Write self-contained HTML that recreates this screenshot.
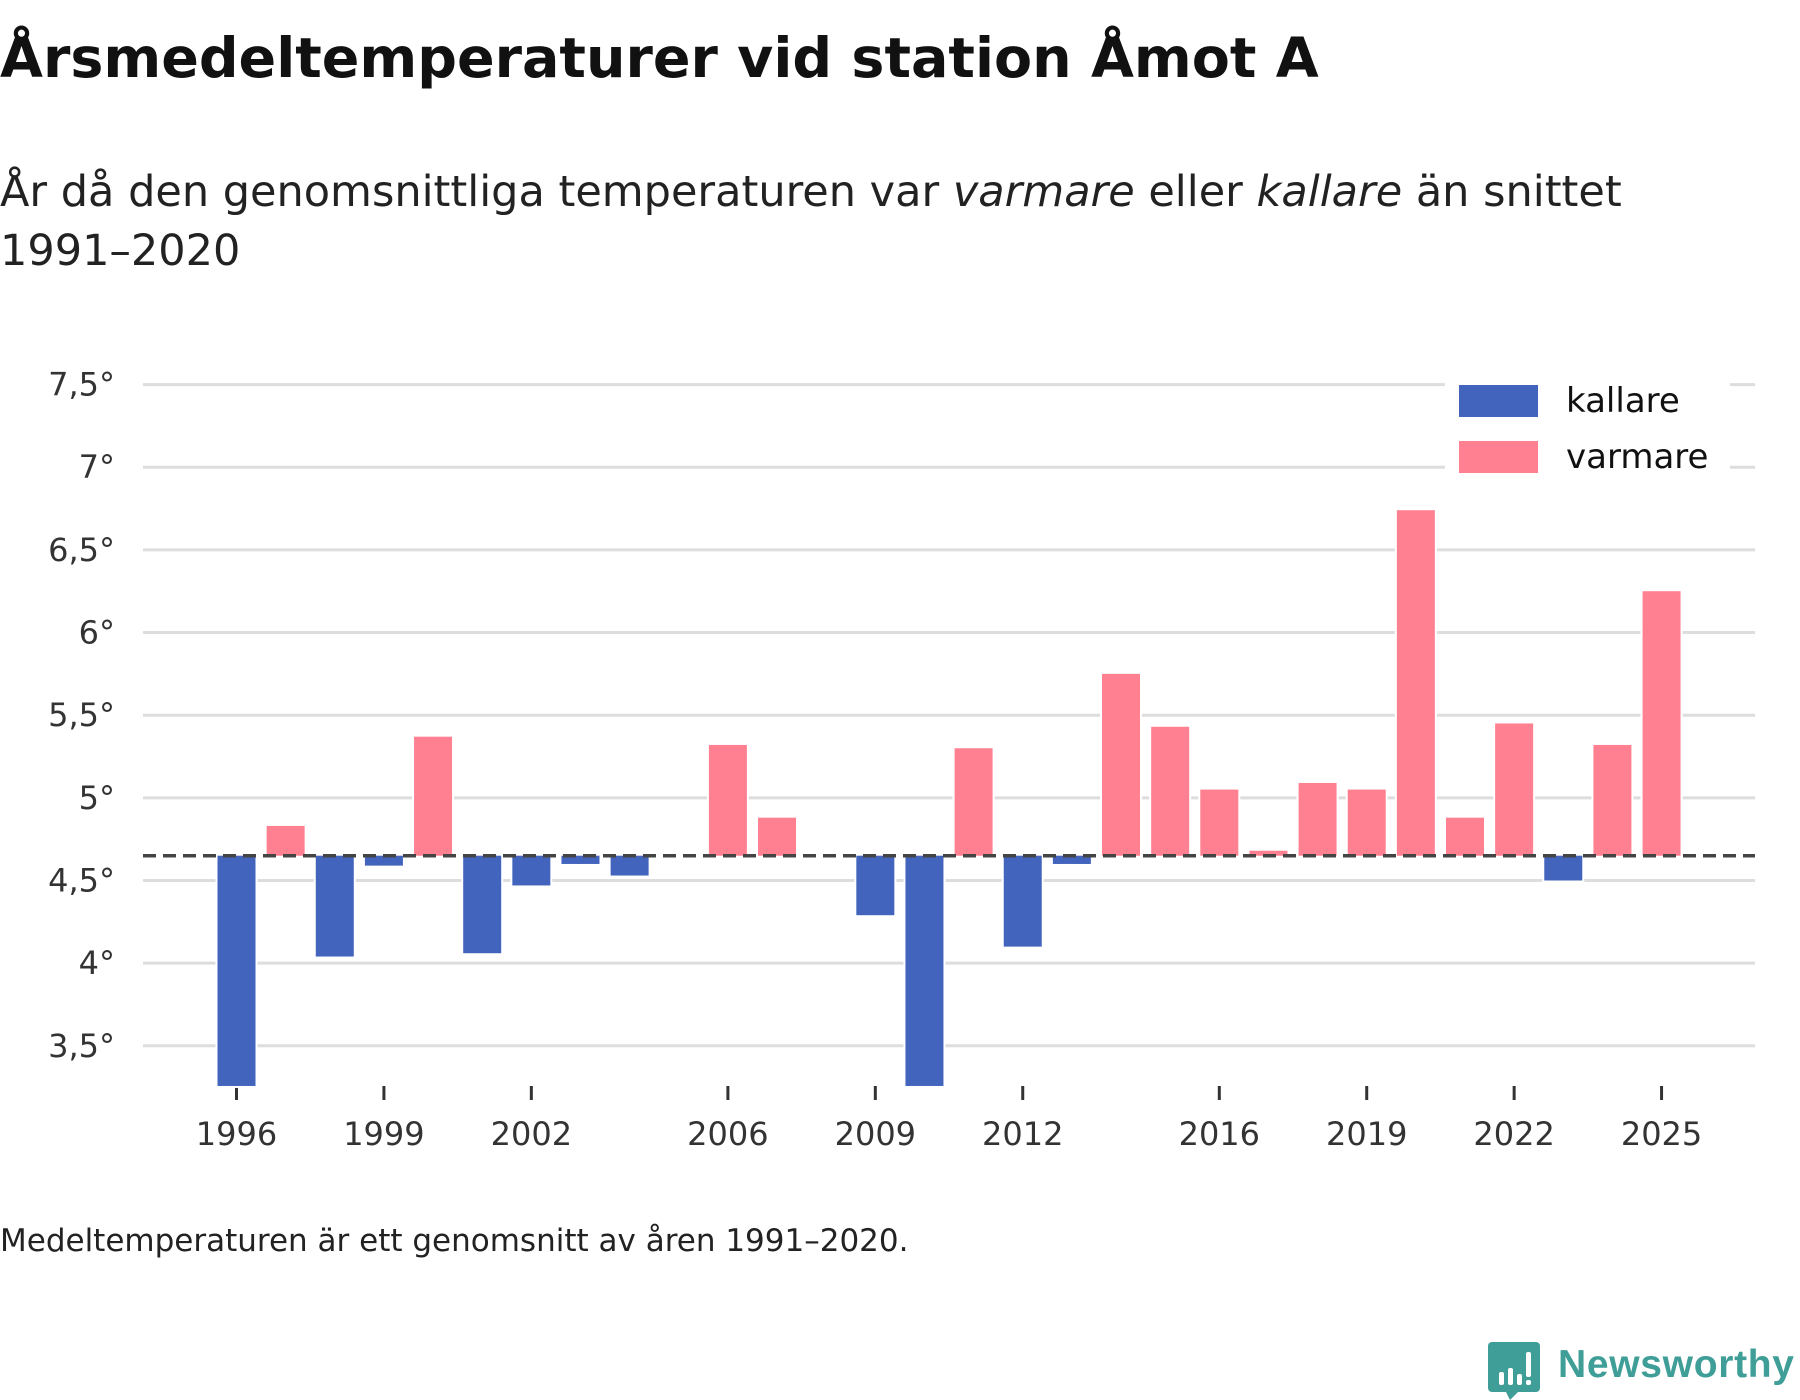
<!DOCTYPE html>
<html><head><meta charset="utf-8"><style>
html,body{margin:0;padding:0;background:#fff;}
body{width:1800px;height:1400px;position:relative;overflow:hidden;font-family:"DejaVu Sans",sans-serif;color:#111;}
.t{position:absolute;left:0;white-space:nowrap;}
</style></head><body>
<div class="t" style="top:30px;font-size:55.5px;line-height:57px;font-weight:bold;">Årsmedeltemperaturer vid station Åmot A</div>
<div class="t" style="top:163px;font-size:43px;line-height:59px;color:#222;">År då den genomsnittliga temperaturen var <i>varmare</i> eller <i>kallare</i> än snittet<br>1991–2020</div>
<svg id="chart" width="1800" height="1200" style="position:absolute;left:0;top:0;"></svg>
<div class="t" style="top:1226px;font-size:31px;line-height:30px;color:#222;">Medeltemperaturen är ett genomsnitt av åren 1991–2020.</div>
<svg width="320" height="70" style="position:absolute;left:1480px;top:1330px;">
<path d="M12 12 h44 a4 4 0 0 1 4 4 v42 a4 4 0 0 1 -4 4 h-18 l-8 8 l-4 -8 h-14 a4 4 0 0 1 -4 -4 v-42 a4 4 0 0 1 4 -4z" fill="#3f9e97"/>
<rect x="19" y="42" width="5" height="13" rx="2" fill="#fff"/><rect x="28" y="38" width="5" height="17" rx="2" fill="#fff"/><rect x="37" y="44" width="5" height="11" rx="2" fill="#fff"/><rect x="46" y="22" width="5" height="25" rx="2" fill="#fff"/><rect x="46" y="50" width="5" height="5" rx="2" fill="#fff"/>
<text x="78" y="47" font-family="Liberation Sans, sans-serif" font-size="39" font-weight="bold" fill="#3f9e97" textLength="236">Newsworthy</text>
</svg>
<script>
const years=[1996,1997,1998,1999,2000,2001,2002,2003,2004,2006,2007,2009,2010,2011,2012,2013,2014,2015,2016,2017,2018,2019,2020,2021,2022,2023,2024,2025];
const temps=[3.2,4.83,4.04,4.59,5.37,4.06,4.47,4.60,4.53,5.32,4.88,4.29,3.2,5.30,4.10,4.60,5.75,5.43,5.05,4.68,5.09,5.05,6.74,4.88,5.45,4.50,5.32,6.25];
const baseline=4.65;
const yTicks=[3.5,4,4.5,5,5.5,6,6.5,7,7.5];
const yTickLabels=["3,5°","4°","4,5°","5°","5,5°","6°","6,5°","7°","7,5°"];
const xTicks=[1996,1999,2002,2006,2009,2012,2016,2019,2022,2025];
const legendLabels=["kallare","varmare"];
const colors={cold:"#4264bd",warm:"#ff8090"};
const NS="http://www.w3.org/2000/svg";
const svg=document.getElementById('chart');
const yMin=3.257;
function y(v){return 855.7-(v-baseline)*165.3;}
function x(yr){return 236.5+(yr-1996)*49.14;}
function mk(t,a,p){const e=document.createElementNS(NS,t);for(const k in a)e.setAttribute(k,a[k]);(p||svg).appendChild(e);return e;}
yTicks.forEach((v,i)=>{
  const l=mk('line',{x1:143,x2:1755,y1:y(v),y2:y(v),stroke:'#dddddd','stroke-width':3});
  
  
  const t=mk('text',{x:115,y:y(v)+11,'text-anchor':'end','font-size':32,fill:'#333','font-family':'DejaVu Sans, sans-serif'});
  t.textContent=yTickLabels[i];
  
  
});
xTicks.forEach(yr=>{
  const l=mk('line',{x1:x(yr),x2:x(yr),y1:1086,y2:1100,stroke:'#333','stroke-width':3});
  
  
  const t=mk('text',{x:x(yr),y:1145,'text-anchor':'middle','font-size':32,fill:'#333','font-family':'DejaVu Sans, sans-serif'});
  t.textContent=yr;
  
  
});
years.forEach((yr,i)=>{
  const v=Math.max(temps[i],yMin);
  const top=Math.min(y(v),y(baseline)), h=Math.abs(y(v)-y(baseline));
  const r=mk('rect',{x:x(yr)-19,y:top,width:38,height:h,fill:temps[i]>=baseline?colors.warm:colors.cold,stroke:'#fff','stroke-width':4,'paint-order':'stroke'});
  
  
});
const d=mk('line',{x1:143,x2:1755,y1:y(baseline),y2:y(baseline),stroke:'#444','stroke-width':3.5,'stroke-dasharray':'13 7'});


const lg=mk('rect',{x:1445,y:380,width:285,height:95,fill:'#fff'});


legendLabels.forEach((lab,i)=>{
  const r=mk('rect',{x:1459,y:385+56*i,width:79,height:32,fill:i===0?colors.cold:colors.warm});
  
  
  const t=mk('text',{x:1566,y:412+56*i,'font-size':34,fill:'#111','font-family':'DejaVu Sans, sans-serif'});
  t.textContent=lab;
  
  
});
</script>
</body></html>
